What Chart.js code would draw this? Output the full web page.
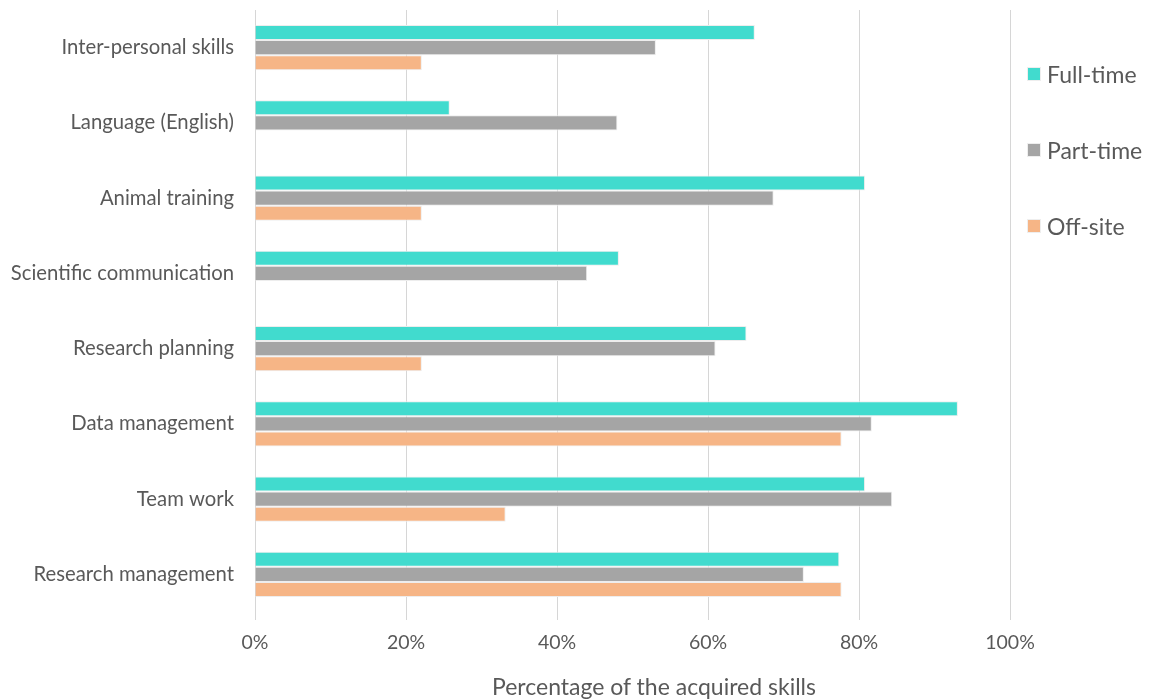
<!DOCTYPE html>
<html>
<head>
<meta charset="utf-8">
<script src="https://cdn.jsdelivr.net/npm/chart.js@4.4.1/dist/chart.umd.min.js"></script>
<style>
  html, body { margin: 0; padding: 0; background: #ffffff; }
  #wrap { position: relative; width: 1151px; height: 700px; }
  #legend { position: absolute; left: 1027px; top: 0; font-family: Lato, "Open Sans", sans-serif; font-size: 23px; color: #595959; }
  .item { position: absolute; left: 0; white-space: nowrap; display: flex; align-items: center; height: 26px; }
  .sw { width: 14px; height: 14px; margin-right: 6px; box-sizing: border-box; border: 1px solid #eeeeee; }
  #xtitle { position: absolute; left: 454px; width: 400px; top: 672px; text-align: center; font-family: Lato, "Open Sans", sans-serif; font-size: 23px; color: #595959; white-space: nowrap; line-height: 28px; }
</style>
</head>
<body>
<div id="wrap">
  <canvas id="c" width="1151" height="700"></canvas>
  <div id="legend"></div>
  <div id="xtitle"></div>
</div>
<script>
const categories = [
  "Inter-personal skills",
  "Language (English)",
  "Animal training",
  "Scientific communication",
  "Research planning",
  "Data management",
  "Team work",
  "Research management"
];
const seriesNames = ["Full-time", "Part-time", "Off-site"];
const fullTime = [66.2, 25.8, 80.8, 48.2, 65.1, 93.1, 80.8, 77.4];
const partTime = [53.1, 48.0, 68.7, 44.0, 61.0, 81.7, 84.4, 72.7];
const offSite  = [22.1, 0,    22.1, 0,    22.1, 77.7, 33.2, 77.7];
const xTicks = [0, 20, 40, 60, 80, 100];
const xTitle = "Percentage of the acquired skills";
const colors = ["#41DBCE", "#A5A5A5", "#F6B586"];
const textColor = "#595959";
const fontFamily = "Lato, 'Open Sans', sans-serif";

const seriesData = [fullTime, partTime, offSite];

document.getElementById('xtitle').textContent = xTitle;

// HTML legend
const legendEl = document.getElementById('legend');
const legendY = [61, 137, 213];
seriesNames.forEach((name, i) => {
  const it = document.createElement('div');
  it.className = 'item';
  it.style.top = legendY[i] + 'px';
  const sw = document.createElement('span');
  sw.className = 'sw';
  sw.style.background = colors[i];
  const tx = document.createElement('span');
  tx.textContent = name;
  it.appendChild(sw); it.appendChild(tx);
  legendEl.appendChild(it);
});

new Chart(document.getElementById('c'), {
  type: 'bar',
  data: {
    labels: categories,
    datasets: seriesNames.map((name, i) => ({
      label: name,
      data: seriesData[i],
      backgroundColor: colors[i],
      borderColor: '#ededed',
      borderWidth: 1,
      categoryPercentage: 0.6,
      barPercentage: 1.0
    }))
  },
  options: {
    indexAxis: 'y',
    responsive: false,
    animation: false,
    layout: { padding: { top: 10, right: 141, left: 0, bottom: 0 } },
    plugins: { legend: { display: false }, tooltip: { enabled: false } },
    scales: {
      x: {
        min: 0, max: 100,
        afterBuildTicks: (scale) => { scale.ticks = xTicks.map(v => ({ value: v })); },
        afterFit: (scale) => { scale.height = 88; scale.paddingLeft = 0; scale.paddingRight = 0; },
        grid: { color: '#d6d6d6', lineWidth: 1, drawTicks: true, tickLength: 8, tickColor: '#d6d6d6' },
        border: { display: false },
        ticks: {
          color: textColor,
          font: { family: fontFamily, size: 19.5 },
          padding: 11,
          callback: (v) => v + '%'
        },
        title: { display: false }
      },
      y: {
        afterFit: (scale) => { scale.width = 255; scale.paddingTop = 0; scale.paddingBottom = 0; },
        grid: { display: false },
        border: { display: false },
        ticks: {
          color: textColor,
          font: { family: fontFamily, size: 20.3 },
          padding: 13
        }
      }
    }
  }
});
</script>
</body>
</html>
